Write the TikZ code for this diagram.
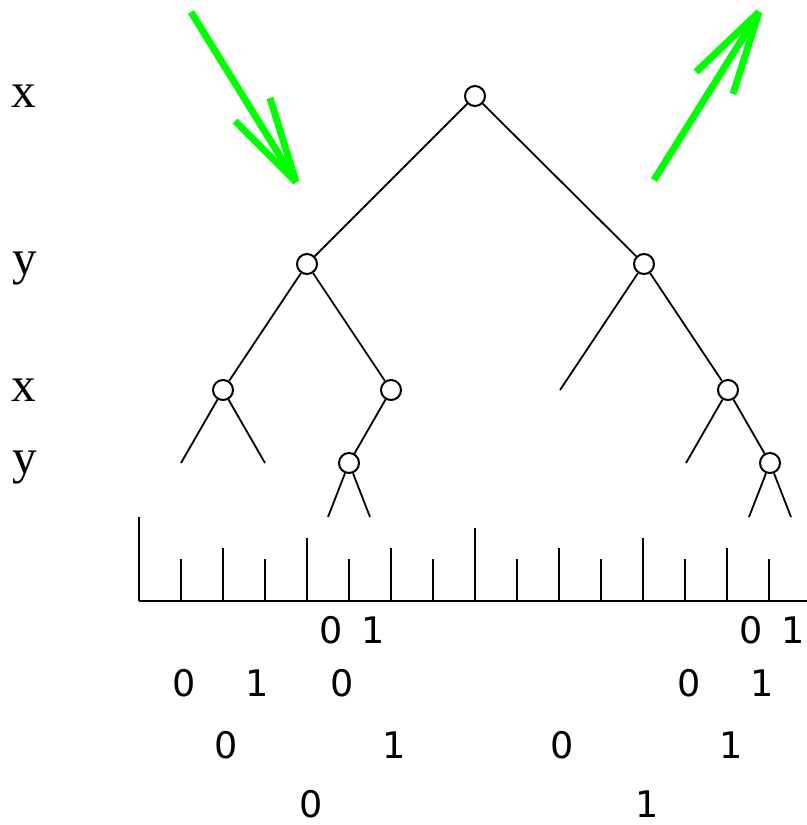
\documentclass[tikz,border=0pt]{standalone}
\usepackage{fontspec}
\setmainfont{Liberation Serif}
\newfontfamily\digitfont{DejaVu Sans}
\usepackage{xcolor}

\tikzset{
  vtx/.style={circle, draw, line width=1pt, minimum size=10pt, inner sep=0pt},
  edge/.style={line width=0.9pt},
  varlab/.style={inner sep=0pt, font=\fontsize{24.6}{29}\selectfont},
  bitlab/.style={inner sep=0pt, font=\digitfont\fontsize{18.3}{22}\selectfont},
  hint/.style={green, line width=3.5pt}
}

\begin{document}
\begin{tikzpicture}[x=0.5pt,y=-0.5pt]
\useasboundingbox (0,0) rectangle (807,825);

% variable order on the left
\node[varlab] (v1) at (24,96) {x};
\node[varlab] (v2) at (24.5,269) {y};
\node[varlab] (v3) at (24,390) {x};
\node[varlab] (v4) at (24.5,468) {y};

% tree
\node[vtx] (n) at (475,96) {};
\node[vtx] (n0) at (307,264) {};
\node[vtx] (n1) at (644,264) {};
\node[vtx] (n00) at (223,390) {};
\node[vtx] (n01) at (391,390) {};
\node[vtx] (n11) at (728,390) {};
\node[vtx] (n010) at (349,463) {};
\node[vtx] (n111) at (770,463) {};
\coordinate (n10) at (560,390);
\coordinate (n000) at (181,463);
\coordinate (n001) at (265,463);
\coordinate (n110) at (686,463);
\coordinate (n0100) at (328,517);
\coordinate (n0101) at (370,517);
\coordinate (n1110) at (749,517);
\coordinate (n1111) at (791,517);

\draw[edge] (n) -- (n0);
\draw[edge] (n) -- (n1);
\draw[edge] (n0) -- (n00);
\draw[edge] (n0) -- (n01);
\draw[edge] (n1) -- (n10);
\draw[edge] (n1) -- (n11);
\draw[edge] (n00) -- (n000);
\draw[edge] (n00) -- (n001);
\draw[edge] (n01) -- (n010);
\draw[edge] (n11) -- (n110);
\draw[edge] (n11) -- (n111);
\draw[edge] (n010) -- (n0100);
\draw[edge] (n010) -- (n0101);
\draw[edge] (n111) -- (n1110);
\draw[edge] (n111) -- (n1111);

% ruler
\coordinate (r0) at (139,601);
\coordinate (r1) at (807,601);
\draw[line width=1.2pt] (r0) -- (r1);
\foreach \x/\t in {139/517,181/559,223/548,265/559,307/538,349/559,391/548,433/559,
                   475/528,517/559,559/548,601/559,643/538,685/559,727/548,769/559}{
  \draw[line width=1.1pt] (\x,601) -- (\x,\t);
}

% bit labels
\foreach \x/\y/\b/\i in {331/630/0/a,373/630/1/b,751/630/0/c,793.5/630/1/d,
                         184/683/0/e,257.5/683/1/f,342/683/0/g,689/683/0/h,762/683/1/i,
                         226.5/745/0/j,394.5/745/1/k,562.5/745/0/l,731/745/1/m,
                         311/804/0/n,647.5/804/1/o}{
  \node[bitlab] (b\i) at (\x,\y) {\b};
}

% green arrows
\coordinate (a0) at (191,12);
\coordinate (a1) at (296,182);
\coordinate (a2) at (235,121);
\coordinate (a3) at (270,98);
\coordinate (c0) at (654,180);
\coordinate (c1) at (759,12);
\coordinate (c2) at (696,72);
\coordinate (c3) at (733,94);
\draw[hint] (a0) -- (a1);
\draw[hint] (a2) -- (a1);
\draw[hint] (a3) -- (a1);
\draw[hint] (c0) -- (c1);
\draw[hint] (c2) -- (c1);
\draw[hint] (c3) -- (c1);
\end{tikzpicture}
\end{document}
